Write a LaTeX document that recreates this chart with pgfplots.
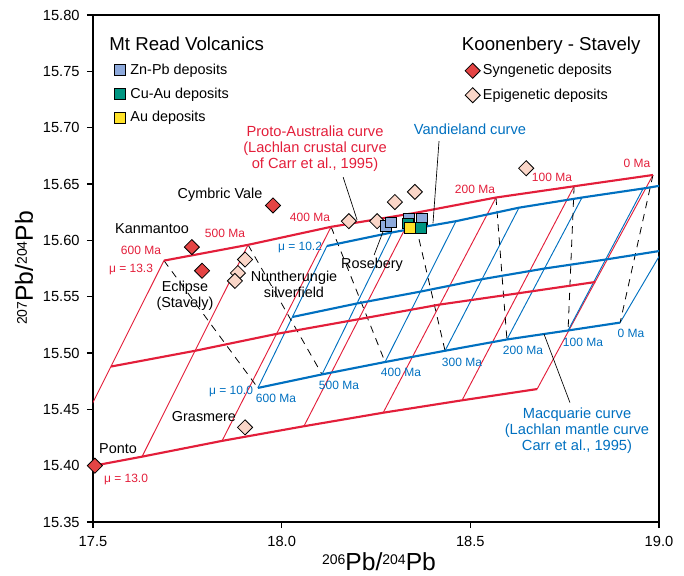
\documentclass[border=0pt]{standalone}
\usepackage{fontspec}
\setmainfont{Liberation Sans}
\usepackage{pgfplots}
\pgfplotsset{compat=1.18}
\definecolor{cred}{RGB}{227,30,58}
\definecolor{cblue}{RGB}{0,112,192}
\definecolor{znpb}{RGB}{141,169,219}
\definecolor{cuau}{RGB}{0,150,130}
\definecolor{auy}{RGB}{255,226,40}
\definecolor{syn}{RGB}{228,68,68}
\definecolor{epi}{RGB}{250,214,200}
\pgfplotsset{lgmark/.style={legend image code/.code={\draw[##1] plot coordinates {(0pt,0pt)};\path (6.5pt,0pt);}}}
\newcommand\fsm{\fontsize{9}{11}\selectfont}
\newcommand\flb{\fontsize{10.8}{12}\selectfont}
\newcommand\fcv{\fontsize{11}{12}\selectfont}
\newcommand\fti{\fontsize{14}{16}\selectfont}
\begin{document}
\begin{tikzpicture}
\begin{axis}[
  scale only axis, width=424.5pt, height=380.25pt,
  xmin=17.5, xmax=19.0, ymin=15.35, ymax=15.80,
  xtick={17.5,18.0,18.5,19.0},
  ytick={15.35,15.40,15.45,15.50,15.55,15.60,15.65,15.70,15.75,15.80},
  tick pos=left, tick align=outside, major tick length=4.5pt,
  axis line style={line width=0.9pt},
  every tick/.style={black, line width=0.8pt},
  xticklabel style={font=\fontsize{11}{13}\selectfont, yshift=-3pt, /pgf/number format/.cd, fixed, fixed zerofill, precision=1, assume math mode=true},
  yticklabel style={font=\fontsize{11}{13}\selectfont, xshift=-2pt, /pgf/number format/.cd, fixed, fixed zerofill, precision=2, assume math mode=true},
  unbounded coords=jump,
  legend style={at={(0.650,0.965)}, anchor=north west, draw=none, fill=none, row sep=7pt, font=\flb, nodes={inner sep=1pt}},
  legend cell align=left,
]
% red isochrons
\addplot[cred, line width=0.7pt, forget plot] coordinates {
(17.407,15.394) (17.688,15.582) (nan,nan)
(17.630,15.408) (17.911,15.596) (nan,nan)
(17.842,15.422) (18.131,15.612) (nan,nan)
(18.059,15.435) (18.348,15.624) (nan,nan)
(18.269,15.447) (18.568,15.638) (nan,nan)
(18.478,15.458) (18.775,15.648) (nan,nan)
(18.677,15.468) (18.984,15.658)};
% blue isochrons
\addplot[cblue, line width=0.7pt, forget plot] coordinates {
(17.937,15.469) (18.120,15.595) (nan,nan)
(18.107,15.481) (18.292,15.607) (nan,nan)
(18.274,15.492) (18.462,15.617) (nan,nan)
(18.433,15.502) (18.629,15.629) (nan,nan)
(18.597,15.512) (18.796,15.638) (nan,nan)
(18.759,15.520) (18.958,15.646) (nan,nan)
(18.897,15.527) (19.122,15.655)};
% dashed tie lines
\addplot[black, line width=0.6pt, dash pattern=on 5.5pt off 4.5pt, forget plot] coordinates {
(17.688,15.582) (17.937,15.469) (nan,nan)
(17.911,15.596) (18.107,15.481) (nan,nan)
(18.131,15.612) (18.274,15.492) (nan,nan)
(18.348,15.624) (18.433,15.502) (nan,nan)
(18.568,15.638) (18.597,15.512) (nan,nan)
(18.775,15.648) (18.759,15.520) (nan,nan)
(18.984,15.658) (18.897,15.527)};
% red growth curves
\addplot[cred, line width=1.6pt, forget plot] coordinates {(17.688,15.582) (17.911,15.596) (18.131,15.612) (18.348,15.624) (18.568,15.638) (18.775,15.648) (18.984,15.658)};
\addplot[cred, line width=1.6pt, forget plot] coordinates {(17.548,15.488) (17.771,15.502) (17.987,15.517) (18.204,15.530) (18.419,15.543) (18.627,15.553) (18.831,15.563)};
\addplot[cred, line width=1.6pt, forget plot] coordinates {(17.407,15.394) (17.630,15.408) (17.842,15.422) (18.059,15.435) (18.269,15.447) (18.478,15.458) (18.677,15.468)};
% blue growth curves
\addplot[cblue, line width=1.6pt, forget plot] coordinates {(17.937,15.469) (18.107,15.481) (18.274,15.492) (18.433,15.502) (18.597,15.512) (18.759,15.520) (18.897,15.527)};
\addplot[cblue, line width=1.6pt, forget plot] coordinates {(18.029,15.532) (18.200,15.544) (18.368,15.5545) (18.531,15.5655) (18.697,15.575) (18.859,15.583) (19.010,15.591)};
\addplot[cblue, line width=1.6pt, forget plot] coordinates {(18.120,15.595) (18.292,15.607) (18.462,15.617) (18.629,15.629) (18.796,15.638) (18.958,15.646) (19.122,15.655)};
% leader lines
\draw[black, line width=0.5pt] (axis cs:18.163,15.656) -- (axis cs:18.200,15.618);
\draw[black, line width=0.5pt] (axis cs:18.417,15.688) -- (axis cs:18.401,15.615);
\draw[black, line width=0.5pt] (axis cs:18.695,15.517) -- (axis cs:18.764,15.456);
\draw[black, line width=0.5pt] (axis cs:18.245,15.587) -- (axis cs:18.269,15.608);
% Koonenbery legend + diamonds
\addlegendimage{empty legend}
\addlegendentry{\hspace*{-15.75pt}\fti Koonenbery - Stavely}
\addplot[only marks, mark=square*, mark size=4pt, mark options={rotate=45, fill=syn, draw=black, line width=0.6pt}, lgmark] coordinates {
(17.977,15.631) (17.762,15.594) (17.789,15.573) (17.505,15.400)};
\addlegendentry{Syngenetic deposits}
\addplot[only marks, mark=square*, mark size=4pt, mark options={rotate=45, fill=epi, draw=black, line width=0.6pt}, lgmark] coordinates {
(17.903,15.583) (17.884,15.571) (17.876,15.564) (17.903,15.434) (18.178,15.617) (18.253,15.617) (18.300,15.634) (18.353,15.643) (18.648,15.664)};
\addlegendentry{Epigenetic deposits}
\end{axis}
\begin{axis}[
  scale only axis, width=424.5pt, height=380.25pt,
  xmin=17.5, xmax=19.0, ymin=15.35, ymax=15.80, hide axis,
  legend style={at={(0.031,0.965)}, anchor=north west, draw=none, fill=none, row sep=6.5pt, font=\flb, nodes={inner sep=1pt}},
  legend cell align=left,
]
\addlegendimage{empty legend}
\addlegendentry{\hspace*{-15.75pt}\fti Mt Read Volcanics}
\addplot[only marks, mark=square*, mark size=4pt, mark options={fill=znpb, draw=black, line width=0.6pt}, lgmark] coordinates {
(18.277,15.613) (18.290,15.616) (18.338,15.619) (18.372,15.619)};
\addlegendentry{Zn-Pb deposits}
\addplot[only marks, mark=square*, mark size=4pt, mark options={fill=cuau, draw=black, line width=0.6pt}, lgmark] coordinates {
(18.335,15.615) (18.369,15.611)};
\addlegendentry{Cu-Au deposits}
\addplot[only marks, mark=square*, mark size=4pt, mark options={fill=auy, draw=black, line width=0.6pt}, lgmark] coordinates {
(18.340,15.611)};
\addlegendentry{Au deposits}
\end{axis}
\begin{scope}[x=0.75pt,y=-0.75pt,shift={(current axis.south west)},shift={(-93,-522)},
  lab/.style={inner sep=0pt, text height=0.72em, text depth=0pt}]
% red labels
\node[lab, cred, font=\fsm] at (141,250) {600 Ma};
\node[lab, cred, font=\fsm] at (131,268) {μ = 13.3};
\node[lab, cred, font=\fsm] at (225,233) {500 Ma};
\node[lab, cred, font=\fsm] at (310,217) {400 Ma};
\node[lab, cred, font=\fsm] at (475,189) {200 Ma};
\node[lab, cred, font=\fsm] at (552,177) {100 Ma};
\node[lab, cred, font=\fsm] at (637,163) {0 Ma};
\node[lab, cred, font=\fsm] at (126,478) {μ = 13.0};
% blue labels
\node[lab, cblue, font=\fsm] at (300,246) {μ = 10.2};
\node[lab, cblue, font=\fsm] at (231,390) {μ = 10.0};
\node[lab, cblue, font=\fsm] at (276,398) {600 Ma};
\node[lab, cblue, font=\fsm] at (339,385) {500 Ma};
\node[lab, cblue, font=\fsm] at (401,372) {400 Ma};
\node[lab, cblue, font=\fsm] at (462,362) {300 Ma};
\node[lab, cblue, font=\fsm] at (523,350) {200 Ma};
\node[lab, cblue, font=\fsm] at (583,342) {100 Ma};
\node[lab, cblue, font=\fsm] at (631,333) {0 Ma};
% black labels
\node[lab, font=\flb] at (220,194) {Cymbric Vale};
\node[lab, font=\flb] at (152,229) {Kanmantoo};
\node[lab, font=\flb] at (372,264) {Rosebery};
\node[lab, font=\flb] at (204,417) {Grasmere};
\node[lab, font=\flb] at (118,449) {Ponto};
\node[inner sep=0pt, font=\flb, align=center] at (185,296) {Eclipse\\(Stavely)};
\node[inner sep=0pt, font=\flb, align=center] at (294,284) {Nuntherungie\\silverfield};
% curve names
\node[inner sep=0pt, font=\fcv, align=center, cred] at (315,149) {Proto-Australia curve\\(Lachlan crustal curve\\of Carr et al., 1995)};
\node[lab, font=\fcv, cblue] at (470,130) {Vandieland curve};
\node[inner sep=0pt, font=\fcv, align=center, cblue] at (577,431) {Macquarie curve\\(Lachlan mantle curve\\Carr et al., 1995)};
% axis labels
\node[inner sep=0pt, anchor=base, font=\fontsize{18.5}{20}\selectfont] at (379,570) {\raisebox{4.5pt}{\fontsize{10.5}{12}\selectfont 206}Pb/\raisebox{4.5pt}{\fontsize{10.5}{12}\selectfont 204}Pb};
\node[inner sep=0pt, anchor=base, rotate=90, font=\fontsize{18.5}{20}\selectfont] at (33,268) {\raisebox{4.5pt}{\fontsize{10.5}{12}\selectfont 207}Pb/\raisebox{4.5pt}{\fontsize{10.5}{12}\selectfont 204}Pb};
\pgfresetboundingbox
\path[use as bounding box] (0,0) rectangle (684,575);
\end{scope}
\end{tikzpicture}
\end{document}
